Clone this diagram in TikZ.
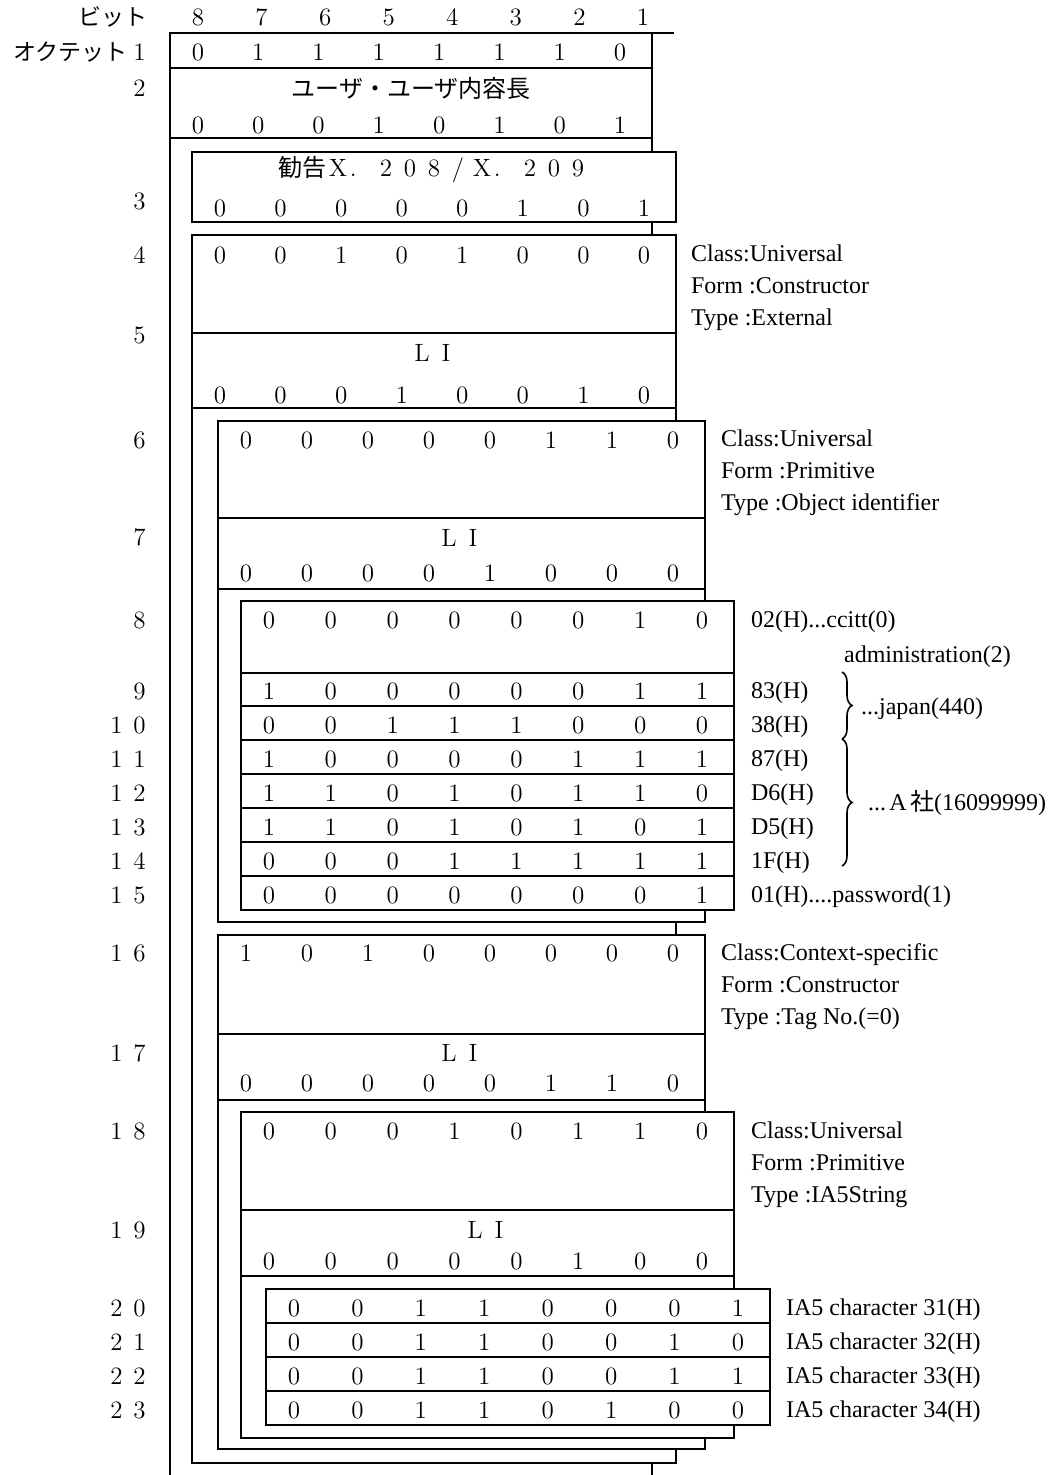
\documentclass[tikz,border=0pt]{standalone}
\usepackage{fontspec}
\newfontfamily\jpfont{Noto Sans CJK JP}
\newfontfamily\tmfont{Liberation Serif}
\usetikzlibrary{decorations.pathreplacing}

% one full-width cell
\newcommand{\fw}[2][12pt]{\makebox[#1]{#2}}
% eight bits spread over a box: name, left, right, y, bits
\newcommand{\bitrow}[5]{%
  \foreach \b [count=\i] in {#5}
    \node[bit] (#1-\i) at ({#2+28+(\i-1)*(#3-#2-60)/7}, #4) {\b};%
}

\tikzset{
  framebox/.style={draw, fill=white},
  bit/.style={inner sep=0pt, font=\fontsize{12.5}{13}\selectfont},
  octlbl/.style={inner sep=0pt, anchor=east, font=\fontsize{12.5}{13}\selectfont},
  fieldtxt/.style={inner sep=0pt, font=\fontsize{12.5}{13}\selectfont},
  note/.style={inner sep=0pt, anchor=base west, yshift=-3.5pt,
    font=\tmfont\fontsize{12}{14}\selectfont},
  oidbrace/.style={decorate, decoration={brace, amplitude=5pt}, line width=0.8pt},
}

\begin{document}
\begin{tikzpicture}[x=0.5pt, y=-0.5pt, line width=1.1pt]
\useasboundingbox (0,0) rectangle (1053,1475);

% ---- outer frame ----
\draw (170,1475) -- (170,33) -- (674,33);
\draw (652,33) -- (652,1475);

% ---- octets 1-2 ----
\draw[framebox] (170,33) rectangle (652,138);
\draw (170,68) -- (652,68);

% ---- octet 3 ----
\draw[framebox] (192,152) rectangle (676,222);

% ---- EXTERNAL ----
\draw[framebox] (192,235) rectangle (676,1463);
\draw (192,333) -- (676,333);
\draw (192,408) -- (676,408);

% ---- object identifier ----
\draw[framebox] (218,421) rectangle (705,922);
\draw (218,518) -- (705,518);
\draw (218,589) -- (705,589);
\draw[framebox] (241,601) rectangle (734,910);
\foreach \y in {673,706,740,774,808,842,876}
  \draw (241,\y) -- (734,\y);

% ---- tag [0] ----
\draw[framebox] (218,935) rectangle (705,1449);
\draw (218,1034) -- (705,1034);
\draw (218,1100) -- (705,1100);

% ---- IA5String ----
\draw[framebox] (241,1112) rectangle (734,1438);
\draw (241,1210) -- (734,1210);
\draw (241,1276) -- (734,1276);
\draw[framebox] (266,1289) rectangle (770,1425);
\foreach \y in {1323,1357,1391}
  \draw (266,\y) -- (770,\y);

% ---- header ----
\node[octlbl, font=\jpfont\fontsize{11.5}{12}\selectfont] (bitlbl) at (149,17) {ビット};
\bitrow{hd}{170}{675}{17}{8,7,6,5,4,3,2,1}
\node[octlbl] (oct1) at (152,52) {{\jpfont\fontsize{11.5}{12}\selectfont オクテット}\fw[11.5pt]{1}};
\foreach \n/\y in {2/88, 3/201, 4/255, 5/335, 6/440, 7/537, 8/620,
    9/691, 10/725, 11/759, 12/793, 13/827, 14/861, 15/895,
    16/953, 17/1053, 18/1131, 19/1230, 20/1308, 21/1342, 22/1376, 23/1410}{
  \pgfmathtruncatemacro{\tens}{\n/10}
  \pgfmathtruncatemacro{\units}{mod(\n,10)}
  \node[octlbl] (oct\n) at (152,\y) {\ifnum\tens>0 \fw[11.5pt]{\tens}\fi\fw[11.5pt]{\units}};
}

% ---- bits ----
\bitrow{o1}{170}{652}{52}{0,1,1,1,1,1,1,0}
\node[fieldtxt, font=\jpfont\fontsize{12}{12}\selectfont] (uulen) at (411,88) {ユーザ・ユーザ内容長};
\bitrow{o2}{170}{652}{125}{0,0,0,1,0,1,0,1}
\node[fieldtxt] (rec) at (434,170) {{\jpfont\fontsize{12}{12}\selectfont 勧告}\fw{X}\makebox[12pt][l]{.}\fw{2}\fw{0}\fw{8}\fw{/}\fw{X}\makebox[12pt][l]{.}\fw{2}\fw{0}\fw{9}};
\bitrow{o3}{192}{676}{208}{0,0,0,0,0,1,0,1}
\bitrow{o4}{192}{676}{255}{0,0,1,0,1,0,0,0}
\node[fieldtxt] (li5) at (434,353) {\fw{L}\fw{I}};
\bitrow{o5}{192}{676}{395}{0,0,0,1,0,0,1,0}
\bitrow{o6}{218}{705}{440}{0,0,0,0,0,1,1,0}
\node[fieldtxt] (li7) at (461,538) {\fw{L}\fw{I}};
\bitrow{o7}{218}{705}{573}{0,0,0,0,1,0,0,0}
\bitrow{o8}{241}{734}{620}{0,0,0,0,0,0,1,0}
\bitrow{o9}{241}{734}{691}{1,0,0,0,0,0,1,1}
\bitrow{o10}{241}{734}{725}{0,0,1,1,1,0,0,0}
\bitrow{o11}{241}{734}{759}{1,0,0,0,0,1,1,1}
\bitrow{o12}{241}{734}{793}{1,1,0,1,0,1,1,0}
\bitrow{o13}{241}{734}{827}{1,1,0,1,0,1,0,1}
\bitrow{o14}{241}{734}{861}{0,0,0,1,1,1,1,1}
\bitrow{o15}{241}{734}{895}{0,0,0,0,0,0,0,1}
\bitrow{o16}{218}{705}{953}{1,0,1,0,0,0,0,0}
\node[fieldtxt] (li17) at (461,1053) {\fw{L}\fw{I}};
\bitrow{o17}{218}{705}{1083}{0,0,0,0,0,1,1,0}
\bitrow{o18}{241}{734}{1131}{0,0,0,1,0,1,1,0}
\node[fieldtxt] (li19) at (487,1230) {\fw{L}\fw{I}};
\bitrow{o19}{241}{734}{1261}{0,0,0,0,0,1,0,0}
\bitrow{o20}{266}{770}{1308}{0,0,1,1,0,0,0,1}
\bitrow{o21}{266}{770}{1342}{0,0,1,1,0,0,1,0}
\bitrow{o22}{266}{770}{1376}{0,0,1,1,0,0,1,1}
\bitrow{o23}{266}{770}{1410}{0,0,1,1,0,1,0,0}

% ---- notes ----
\node[note] (n4a) at (690,255) {Class:Universal};
\node[note] (n4b) at (690,287) {Form :Constructor};
\node[note] (n4c) at (690,319) {Type :External};
\node[note] (n6a) at (720,440) {Class:Universal};
\node[note] (n6b) at (720,472) {Form :Primitive};
\node[note] (n6c) at (720,503) {Type :Object identifier};
\node[note] (n8a) at (750,620) {02(H)...ccitt(0)};
\node[note] (n8b) at (843,655) {administration(2)};
\foreach \n/\y/\h in {9/691/83, 10/725/38, 11/759/87, 12/793/D6, 13/827/D5, 14/861/1F}
  \node[note] (n\n) at (750,\y) {\h(H)};
\node[note] (n15) at (750,895) {01(H)....password(1)};
\node[note] (n16a) at (720,953) {Class:Context-specific};
\node[note] (n16b) at (720,985) {Form :Constructor};
\node[note] (n16c) at (720,1017) {Type :Tag No.(=0)};
\node[note] (n18a) at (750,1131) {Class:Universal};
\node[note] (n18b) at (750,1163) {Form :Primitive};
\node[note] (n18c) at (750,1195) {Type :IA5String};
\foreach \n/\y/\h in {20/1308/31, 21/1342/32, 22/1376/33, 23/1410/34}
  \node[note] (n\n) at (785,\y) {IA5 character \h(H)};

% ---- braces ----
\coordinate (jpTop) at (842,672);
\coordinate (jpBot) at (842,739);
\coordinate (coBot) at (842,866);
\draw[oidbrace] (jpTop) -- (jpBot);
\draw[oidbrace] (jpBot) -- (coBot);
\node[note] (japan) at (860,707) {...japan(440)};
\node[note] (comp) at (867,803) {...\fw{A}{\jpfont 社}(16099999)};

\end{tikzpicture}
\end{document}
